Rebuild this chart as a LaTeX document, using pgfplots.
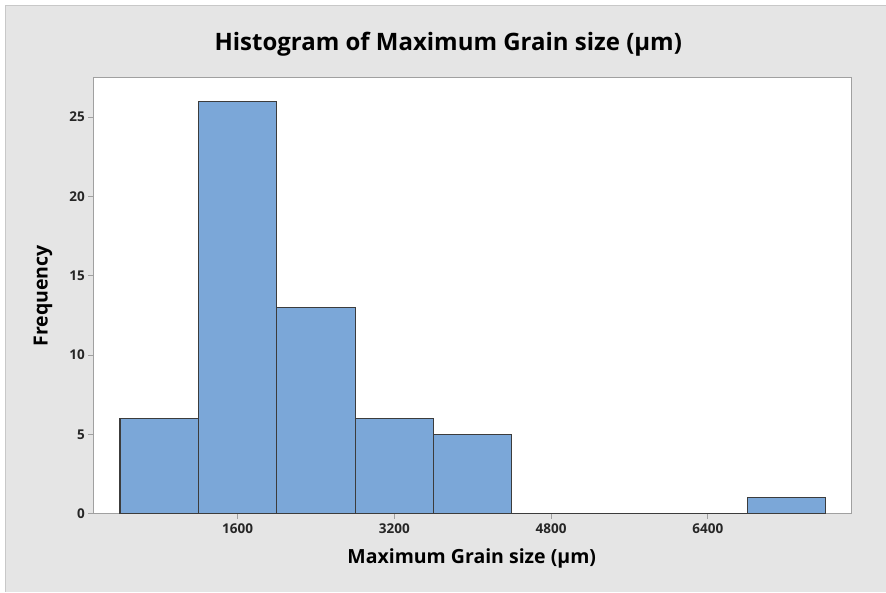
\documentclass[border=0pt]{standalone}
\usepackage{pgfplots}
\pgfplotsset{compat=1.18}
\usepackage{fontspec}
\setmainfont{Open Sans}
\definecolor{bgGray}{HTML}{E5E5E5}
\definecolor{frameGray}{HTML}{C8C8C8}
\definecolor{axGray}{HTML}{A0A0A0}
\definecolor{barBlue}{HTML}{7BA7D8}
\definecolor{barEdge}{HTML}{3C3C3C}
\begin{document}
\begin{tikzpicture}[x=1pt,y=1pt]
  % background, 886x592 px mapped 1px = 1pt
  \fill[white] (0,0) rectangle (886,592);
  \fill[bgGray] (6,0) rectangle (886,586);
  \draw[frameGray,line width=1pt] (6,0) -- (6,586) -- (886,586);

  \begin{axis}[
    at={(93.3pt,78pt)}, anchor=south west,
    width=758.4pt, height=436.7pt, scale only axis,
    axis background/.style={fill=white},
    axis line style={axGray, line width=1pt},
    xmin=127, xmax=7863,
    ymin=0, ymax=27.5,
    xtick={1600,3200,4800,6400},
    ytick={0,5,10,15,20,25},
    xtick pos=bottom, ytick pos=left,
    tick align=outside,
    major tick length=5pt,
    tick style={axGray, line width=0.8pt},
    /pgf/number format/assume math mode=true,
    /pgf/number format/1000 sep={},
    tick label style={font=\fontsize{13.5}{16}\selectfont\bfseries, text=black!85},
    xticklabel style={yshift=-1pt},
    ybar, bar width=800,
  ]
    \addplot[fill=barBlue, draw=barEdge, line width=1.1pt] coordinates {
      (800,6) (1600,26) (2400,13) (3200,6) (4000,5)
      (4800,0) (5600,0) (6400,0) (7200,1)
    };
  \end{axis}

  \node[font=\fontsize{24}{28}\selectfont\bfseries] at (448.5,548) {Histogram of Maximum Grain size (µm)};
  \node[font=\fontsize{19.5}{23}\selectfont\bfseries] at (472,33) {Maximum Grain size (µm)};
  \node[font=\fontsize{19.5}{23}\selectfont\bfseries, rotate=90] at (43,296) {Frequency};
\end{tikzpicture}
\end{document}
